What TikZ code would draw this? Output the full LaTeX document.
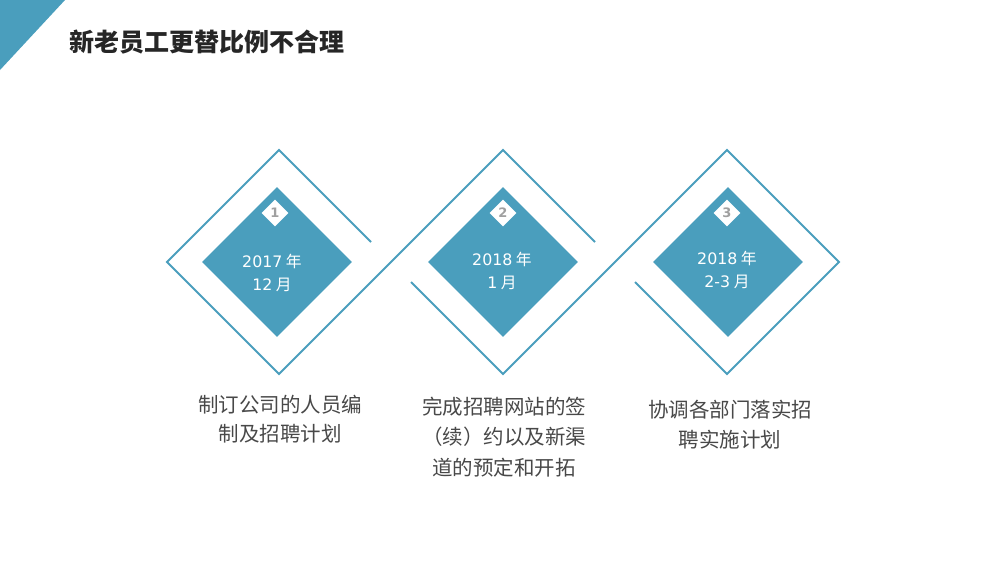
\documentclass[tikz,border=0pt]{standalone}
\usepackage{fontspec}
\setmainfont{Noto Sans CJK SC}
\newfontfamily\digitfont{DejaVu Sans}
\usepackage{xcolor}
\usepackage{tikz}
\usetikzlibrary{shapes.geometric}
\definecolor{stepteal}{RGB}{74, 158, 189}
\definecolor{titlegray}{RGB}{38, 38, 38}
\definecolor{textgray}{RGB}{72, 72, 72}
\definecolor{numgray}{RGB}{160, 160, 160}
\newcommand{\yr}[1]{{\digitfont #1}}

\begin{document}
\begin{tikzpicture}[x=1pt, y=-1pt,
    frame/.style={draw=stepteal, line width=1.8pt, line join=miter},
    datebox/.style={diamond, fill=stepteal, inner sep=0pt, minimum size=150pt},
    datetext/.style={text=white, align=center, font=\fontsize{15.8}{23}\selectfont},
    numbox/.style={diamond, fill=white, inner sep=0pt, minimum size=27pt, text=numgray, font=\fontsize{13}{13}\selectfont\digitfont\bfseries},
    desc/.style={text=textgray, align=center, font=\fontsize{20.5}{29}\selectfont}]
    \useasboundingbox (0,0) rectangle (1000,563);

    % Corner and title
    \fill[stepteal] (0,0) -- (65,0) -- (0,70) -- cycle;
    \node[anchor=west, text=titlegray, font=\fontsize{25}{25}\selectfont\bfseries] (title) at (66,42) {新老员工更替比例不合理};

    % Outline corners
    \coordinate (end1) at (371,242);
    \coordinate (top1) at (279,150);
    \coordinate (left1) at (167,262);
    \coordinate (bot1) at (279,374);
    \coordinate (top2) at (503,150);
    \coordinate (end2) at (595,242);
    \coordinate (start2) at (411,282);
    \coordinate (bot2) at (503,374);
    \coordinate (top3) at (727,150);
    \coordinate (right3) at (839,262);
    \coordinate (bot3) at (727,374);
    \coordinate (start3) at (635,282);

    \draw[frame] (end1) -- (top1) -- (left1) -- (bot1) -- (top2) -- (end2);
    \draw[frame] (start2) -- (bot2) -- (top3) -- (right3) -- (bot3) -- (start3);

    % Date diamonds
    \node[datebox] (date1) at (277,262) {};
    \node[datebox] (date2) at (503,262) {};
    \node[datebox] (date3) at (728,262) {};

    \node[datetext] (year1) at (272,273) {\yr{2017} 年\\\yr{12} 月};
    \node[datetext] (year2) at (502,271) {\yr{2018} 年\\\yr{1} 月};
    \node[datetext] (year3) at (727,270) {\yr{2018} 年\\\yr{2-3} 月};

    % Step numbers
    \node[numbox] (num1) at (275,213) {1};
    \node[numbox] (num2) at (503,213) {2};
    \node[numbox] (num3) at (727,213) {3};

    % Descriptions
    \node[desc] (desc1) at (280,419) {制订公司的人员编\\制及招聘计划};
    \node[desc, font=\fontsize{20.5}{30.5}\selectfont] (desc2) at (504,437) {完成招聘网站的签\\（续）约以及新渠\\道的预定和开拓};
    \node[desc, font=\fontsize{20.5}{30}\selectfont] (desc3) at (730,425) {协调各部门落实招\\聘实施计划};
\end{tikzpicture}
\end{document}
